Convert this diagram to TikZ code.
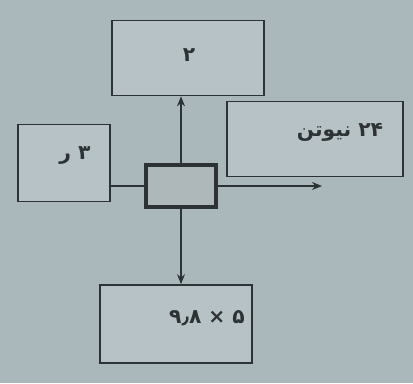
\documentclass[tikz,border=0pt]{standalone}
\usepackage{fontspec}
\usetikzlibrary{arrows.meta}
\newfontfamily\arabicfont[Script=Arabic]{DejaVu Sans}
\TeXXeTstate=1
\definecolor{paper}{RGB}{171,184,187}
\definecolor{boxfill}{RGB}{182,194,197}
\definecolor{ink}{RGB}{45,50,52}

\begin{document}
\begin{tikzpicture}[x=0.025cm,y=-0.025cm,
  forcebox/.style={draw=ink,line width=1.2pt,fill=boxfill,minimum width=#1,minimum height=75*0.025cm,inner sep=0pt},
  body/.style={draw=ink,line width=2.2pt,fill=boxfill!85!gray,minimum width=70*0.025cm,minimum height=42*0.025cm,inner sep=0pt},
  force/.style={draw=ink,line width=1pt,-{Stealth[length=2.5mm,width=2mm]}},
  lbl/.style={font=\arabicfont\Large\bfseries,text=ink,inner sep=0pt}]
  \fill[paper] (0,0) rectangle (413,383);
  \node[forcebox=152*0.025cm] (up) at (188,58) {};
  \node[forcebox=176*0.025cm] (right) at (315,139) {};
  \node[forcebox=92*0.025cm,minimum height=77*0.025cm] (left) at (64,163) {};
  \node[forcebox=152*0.025cm,minimum height=78*0.025cm] (down) at (176,324) {};
  \node[body] (m) at (181,186) {};
  \coordinate (tip) at (322,186);
  \node[lbl] (upl) at (189,55) {\beginR ۲\endR};
  \node[lbl] (rightl) at (340,132) {\beginR ۲۴ نیوتن\endR};
  \node[lbl] (leftl) at (75,156) {\beginR ۳ ر\endR};
  \node[lbl] (downl) at (207,318) {\beginR ۵ × ۹٫۸\endR};
  \draw[force] (m.north) -- (m.north |- up.south);
  \draw[force] (m.south) -- (m.south |- down.north);
  \draw[force] (m.east) -- (tip);
  \draw[draw=ink,line width=1pt] (left.east |- m.west) -- (m.west);
\end{tikzpicture}
\end{document}
